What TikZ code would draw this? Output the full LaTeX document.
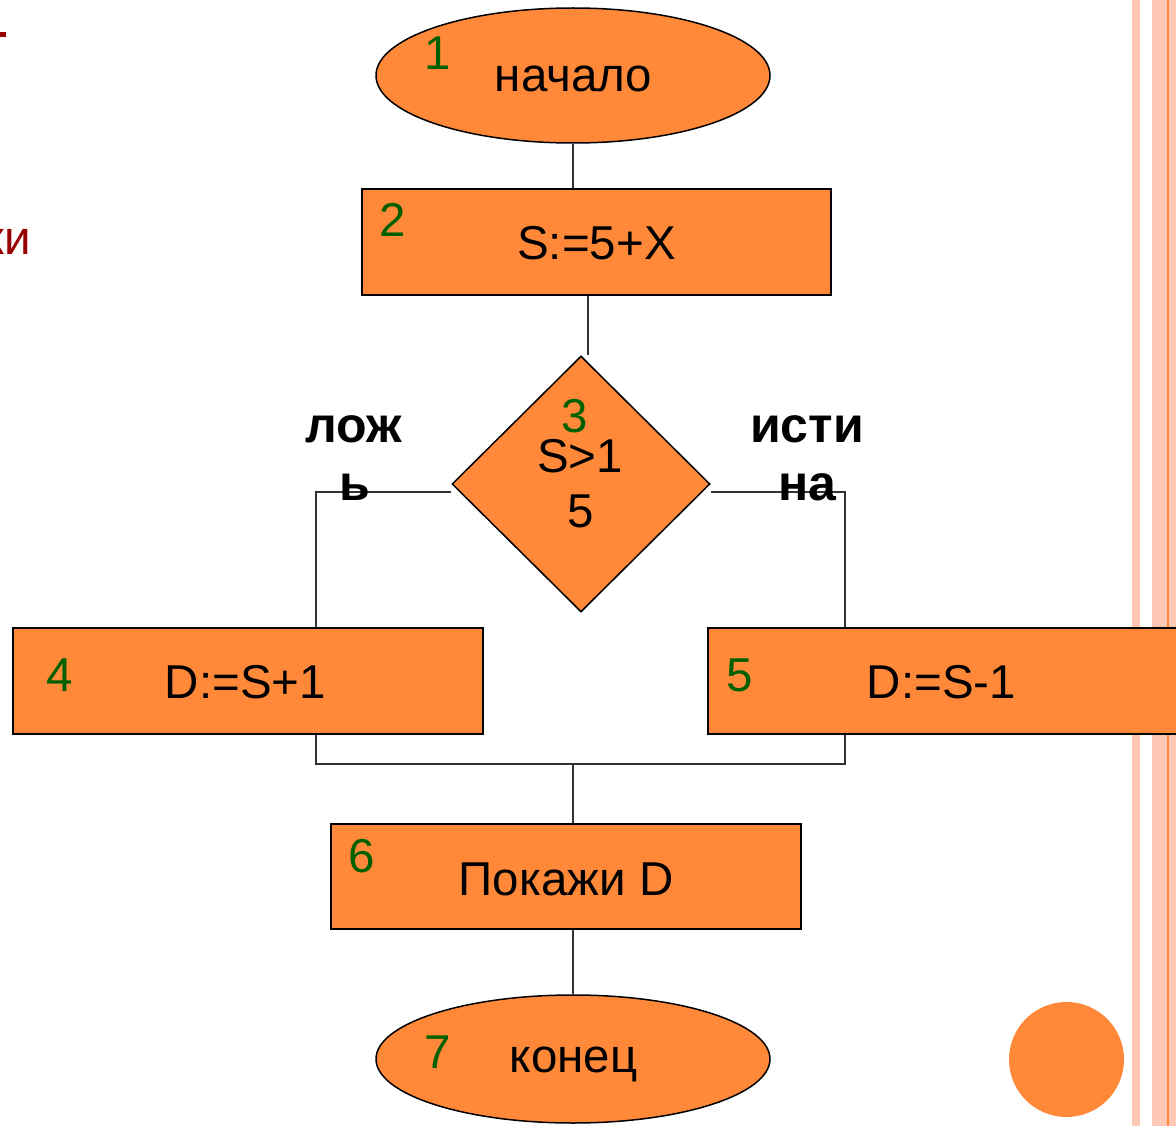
\documentclass[tikz,border=0pt]{standalone}
\usepackage{fontspec}
\setmainfont{Liberation Sans}
\usetikzlibrary{shapes.geometric,calc}
\definecolor{fillor}{RGB}{255,137,56}
\definecolor{peach}{RGB}{255,200,180}
\definecolor{numgreen}{RGB}{0,96,0}
\definecolor{darkred}{RGB}{153,0,0}
\begin{document}
\begin{tikzpicture}[x=1pt,y=-1pt,
 box/.style={draw=black,line width=2pt,fill=fillor,rectangle,inner sep=0pt,minimum height=106pt},
 oval/.style={draw=black,line width=1.5pt,fill=fillor,ellipse,inner sep=0pt,minimum width=394pt},
 txt/.style={font=\fontsize{47.5}{55}\selectfont,inner sep=0pt,anchor=base},
 num/.style={txt,text=numgreen},
 lbl/.style={font=\fontsize{50}{58}\selectfont\bfseries,inner sep=0pt,anchor=base},
 conn/.style={draw=black!80,line width=1.5pt}]
\useasboundingbox (0,0) rectangle (1176,1126);
\fill[white] (0,0) rectangle (1176,1126);
% decorations
\fill[peach] (1132,0) rectangle (1140,1126);
\fill[peach] (1152,0) rectangle (1176,1126);
\fill[fillor] (1167,0) rectangle (1169,1126);
\fill[darkred] (0,32) rectangle (6,37);
\node[txt,anchor=base east,text=darkred] (ki) at (31,255) {ки};
\fill[fillor] (1066.5,1059.5) circle (57.5);
% shapes
\node[oval,minimum height=135pt] (e1) at (573,75.5) {};
\node[box,minimum width=469pt] (r2) at (596.5,242) {};
\node[draw=black,line width=1.5pt,fill=fillor,diamond,inner sep=0pt,minimum width=258pt,minimum height=256pt] (d) at (581,484) {};
\node[box,minimum width=470pt] (r4) at (248,681) {};
\node[box,minimum width=472pt] (r5) at (944,681) {};
\node[box,minimum width=470pt,minimum height=105pt] (r6) at (566,876.5) {};
\node[oval,minimum height=128pt] (e7) at (573,1059) {};
% connector points
\coordinate (lb) at (316,764);
\coordinate (rb) at (845,764);
\coordinate (m) at (573,764);
% connectors
\draw[conn] (e1.south) -- (e1.south |- r2.north);
\draw[conn] ([xshift=-8.5pt]r2.south) -- ([xshift=-8.5pt]r2.south |- d.north);
\draw[conn] ([yshift=-8pt]d.west) -| (lb |- r4.north);
\draw[conn] ([yshift=-8pt]d.east) -| (rb |- r5.north);
\draw[conn] (lb |- r4.south) -- (lb) -- (rb) -- (rb |- r5.south);
\draw[conn] (m) -- (m |- r6.north);
\draw[conn] (m |- r6.south) -- (m |- e7.north);
% texts
\node[txt] (t1) at (573.5,92) {начало};
\node[num] (n1) at (438,70) {1};
\node[txt] (t2) at (596.5,260) {S:=5+X};
\node[num] (n2) at (393,237) {2};
\node[num] (n3) at (575,432) {3};
\node[txt] (t3a) at (580,472) {S>1};
\node[txt] (t3b) at (581,527) {5};
\node[num] (n4) at (60,691) {4};
\node[txt] (t4) at (245.5,698) {D:=S+1};
\node[num] (n5) at (740,691) {5};
\node[txt] (t5) at (941.5,698) {D:=S-1};
\node[num] (n6) at (362,872) {6};
\node[txt] (t6) at (566,895) {Покажи D};
\node[num] (n7) at (438,1068) {7};
\node[txt] (t7) at (573.5,1072) {конец};
\node[lbl] (f1) at (354,442) {лож};
\node[lbl] (f2) at (355,500) {ь};
\node[lbl] (tr1) at (807,442) {исти};
\node[lbl] (tr2) at (807,500) {на};
\end{tikzpicture}
\end{document}
